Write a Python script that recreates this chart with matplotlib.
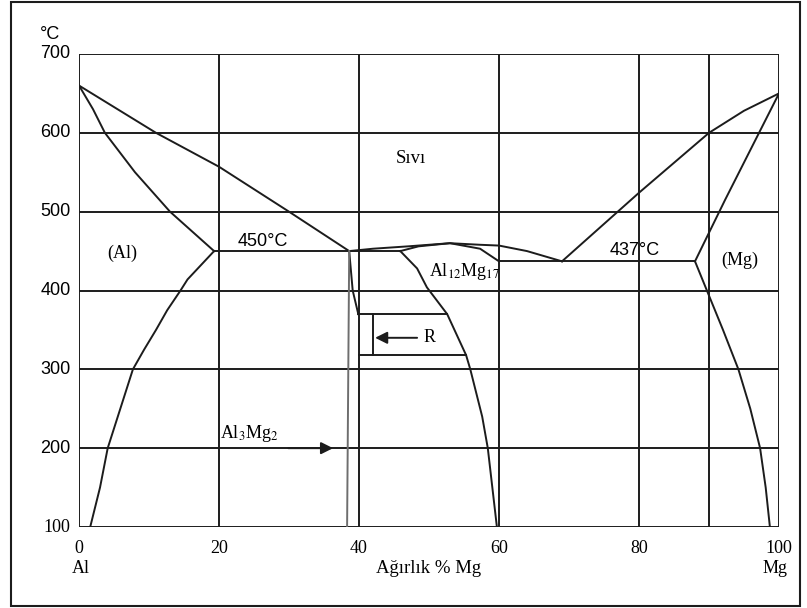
import matplotlib
matplotlib.use('Agg')
import matplotlib.pyplot as plt
from matplotlib.patches import Rectangle

plt.rcParams['mathtext.fontset'] = 'stix'

# Phase boundaries, % Mg vs temperature (C)
al_liquidus_x = [0, 11, 20, 30, 38.6]
al_liquidus_t = [660, 600, 557, 500, 450]
al_solidus_x = [0, 2, 3.7, 8, 13, 19.3]
al_solidus_t = [660, 630, 600, 550, 500, 450]
al_solvus_x = [19.3, 15.5, 14.5, 12.6, 11, 9.3, 7.7, 5.9, 4.1, 3.0, 1.6]
al_solvus_t = [450, 414, 400, 375, 350, 325, 300, 250, 200, 150, 100]

eut1_x = [19.3, 45.9]
eut1_t = [450, 450]
eut2_x = [60, 88]
eut2_t = [437, 437]

al3mg2_left_x = [38.6, 38.3]
al3mg2_left_t = [450, 100]
al3mg2_right_x = [38.6, 39.1, 39.9]
al3mg2_right_t = [450, 400, 370]

beta_liquidus_x = [38.6, 42, 47, 53, 57.3, 60, 64, 69]
beta_liquidus_t = [450, 453, 456, 460, 458, 457, 450, 437]
beta_solidus_x = [45.9, 48.5, 53, 57.3, 60]
beta_solidus_t = [450, 456, 460, 453, 437]
beta_solvus_x = [45.9, 48.3, 49.7, 52.6, 55.3, 55.9, 57.6, 58.4, 59.7]
beta_solvus_t = [450, 428, 404, 370, 318, 300, 240, 200, 100]

r_top_x = [39.9, 52.6]
r_top_t = [370, 370]
r_bot_x = [40, 55.3]
r_bot_t = [318, 318]
r_side_x = [42, 42]
r_side_t = [370, 318]

mg_liquidus_x = [69, 80, 90, 95, 100]
mg_liquidus_t = [437, 524, 600, 628, 650]
mg_solidus_x = [100, 92.3, 88]
mg_solidus_t = [650, 515, 437]
mg_solvus_x = [88, 89.7, 92, 94.2, 95.9, 97.3, 98.1, 98.7]
mg_solvus_t = [437, 400, 350, 300, 250, 200, 150, 100]

grid_x = [0, 20, 40, 60, 80, 90, 100]
grid_t = [100, 200, 300, 400, 500, 600, 700]
xtick_vals = [0, 20, 40, 60, 80, 100]

serif = 'Liberation Serif'
sans = 'Liberation Sans'
ink = '#1c1c1c'

fig = plt.figure(figsize=(8.07, 6.08), dpi=100)
ax = fig.add_axes([79 / 807, 1 - 527 / 608, 700 / 807, 473 / 608])
ax.set_xlim(0, 100)
ax.set_ylim(100, 700)
ax.set_xticks([])
ax.set_yticks([])
for s in ax.spines.values():
    s.set_visible(False)

for gx in grid_x:
    ax.plot([gx, gx], [100, 700], color=ink, lw=1.4, solid_capstyle='butt')
for gt in grid_t:
    ax.plot([0, 100], [gt, gt], color=ink, lw=1.4, solid_capstyle='butt')

lines = [
    (al_liquidus_x, al_liquidus_t), (al_solidus_x, al_solidus_t), (al_solvus_x, al_solvus_t),
    (eut1_x, eut1_t), (eut2_x, eut2_t), (al3mg2_right_x, al3mg2_right_t),
    (beta_liquidus_x, beta_liquidus_t), (beta_solidus_x, beta_solidus_t), (beta_solvus_x, beta_solvus_t),
    (r_top_x, r_top_t), (r_bot_x, r_bot_t), (r_side_x, r_side_t),
    (mg_liquidus_x, mg_liquidus_t), (mg_solidus_x, mg_solidus_t), (mg_solvus_x, mg_solvus_t),
]
for lx, lt in lines:
    ax.plot(lx, lt, color=ink, lw=1.4)
ax.plot(al3mg2_left_x, al3mg2_left_t, color='#6e6e6e', lw=1.4)

# region labels
ax.text(6.2, 447, '(Al)', family=serif, fontsize=13, ha='center', va='center')
ax.text(47.4, 568, 'Sıvı', family=serif, fontsize=13.5, ha='center', va='center')
ax.text(26.3, 462, '450°C', family=sans, fontsize=13, ha='center', va='center')
ax.text(79.4, 451, '437°C', family=sans, fontsize=13, ha='center', va='center')
ax.text(94.4, 438, '(Mg)', family=serif, fontsize=13, ha='center', va='center')
ax.text(55, 424, r'Al$_{12}$Mg$_{17}$', family=serif, fontsize=13, ha='center', va='center')
ax.text(24.4, 219, r'Al$_3$Mg$_2$', family=serif, fontsize=13, ha='center', va='center')
ax.text(50.1, 340, 'R', family=serif, fontsize=13, ha='center', va='center')

arrow = dict(arrowstyle='-|>', color=ink, lw=1.4, mutation_scale=18, shrinkA=0, shrinkB=0)
ax.annotate('', xy=(42.3, 340), xytext=(48.3, 340), arrowprops=arrow)
ax.annotate('', xy=(36.3, 200), xytext=(29.9, 200), arrowprops=arrow)

# axis labels
for gt in grid_t:
    ax.text(-1.2, gt, str(gt), family=serif if gt == 100 else sans, fontsize=13,
            ha='right', va='center')
ax.text(-0.041, 1.042, '°C', transform=ax.transAxes, family=sans,
        fontsize=13, ha='center', va='center')

xt = ax.get_xaxis_transform()
for v in xtick_vals:
    ax.text(v, -0.046, str(v), transform=xt, family=serif, fontsize=13, ha='center', va='center')
ax.text(0.3, -0.088, 'Al', transform=xt, family=serif, fontsize=13, ha='center', va='center')
ax.text(50, -0.088, 'Ağırlık % Mg', transform=xt, family=serif, fontsize=13.5, ha='center', va='center')
ax.text(99.5, -0.088, 'Mg', transform=xt, family=serif, fontsize=13, ha='center', va='center')

fig.patches.append(Rectangle((11 / 807, 2 / 608), 789 / 807, 604 / 608, transform=fig.transFigure,
                             fill=False, edgecolor=ink, lw=1.5))

fig.savefig('out.png', dpi=100)
